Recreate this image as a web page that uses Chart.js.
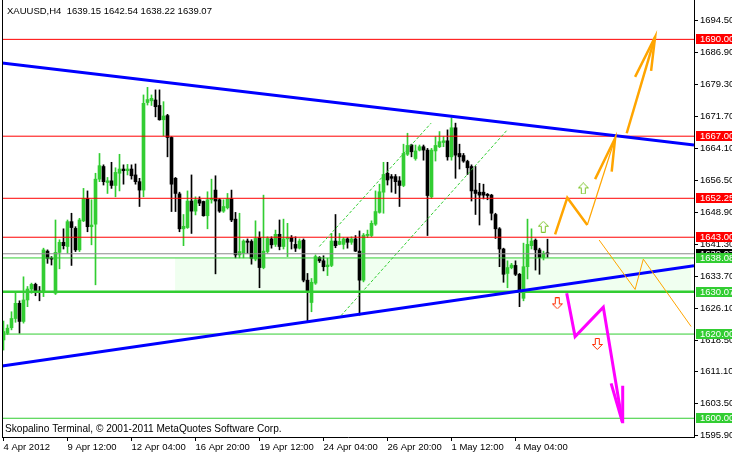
<!DOCTYPE html>
<html><head><meta charset="utf-8">
<script src="https://cdn.jsdelivr.net/npm/chart.js@4.4.1/dist/chart.umd.min.js"></script>
<style>html,body{margin:0;padding:0;background:#fff;overflow:hidden}#wrap{width:732px;height:455px}</style>
</head><body><div id="wrap"><canvas id="c" width="732" height="455"></canvas></div>
<script>
// ---- data (XAUUSD H4) ----
const candleOpen = [1618.6,1620.2,1621.5,1623.7,1627.3,1623.0,1628.1,1630.7,1631.8,1630.2,1629.9,1639.7,1638.0,1629.7,1639.4,1641.8,1640.8,1646.7,1645.1,1640.0,
1646.9,1652.2,1645.5,1646.1,1656.8,1659.8,1656.0,1656.4,1655.3,1658.2,1659.2,1658.8,1659.2,1657.8,1656.2,1654.2,1675.0,1675.4,1675.6,1674.3,
1670.9,1671.9,1666.7,1657.0,1653.3,1645.0,1645.3,1651.6,1649.2,1651.9,1651.5,1648.1,1651.9,1654.2,1651.9,1649.2,1650.0,1652.1,1647.3,1638.8,
1639.2,1642.1,1642.0,1637.8,1642.9,1635.8,1639.6,1642.6,1641.3,1643.7,1640.8,1642.6,1642.9,1641.3,1640.4,1642.3,1632.8,1627.5,1632.1,1638.2,
1637.4,1636.0,1636.3,1642.1,1641.3,1641.3,1642.6,1641.8,1642.6,1639.7,1632.8,1643.4,1643.4,1646.1,1648.9,1653.7,1658.2,1657.4,1657.4,1656.4,
1655.3,1662.7,1664.9,1661.7,1663.7,1664.5,1663.7,1652.6,1663.5,1664.5,1665.5,1665.9,1662.1,1669.0,1662.9,1662.4,1661.0,1659.8,1654.2,1653.7,
1653.7,1653.2,1653.0,1648.4,1645.0,1640.2,1634.4,1635.8,1636.3,1634.2,1628.5,1636.0,1641.0,1642.3,1640.0,1638.2,1639.15];
const candleHigh = [1623.1,1622.2,1625.3,1629.7,1627.9,1633.6,1631.3,1632.1,1632.1,1631.3,1640.4,1640.0,1638.4,1647.1,1642.4,1645.0,1647.1,1648.7,1645.5,1647.5,
1654.6,1654.0,1651.9,1658.2,1662.9,1660.2,1657.2,1660.8,1659.5,1662.7,1660.2,1660.3,1660.2,1660.4,1657.0,1676.8,1678.6,1676.8,1678.0,1678.0,
1675.2,1672.2,1666.9,1657.2,1653.7,1648.4,1654.0,1657.8,1652.6,1652.6,1651.6,1653.8,1656.8,1657.6,1652.2,1651.9,1653.4,1654.2,1648.9,1648.7,
1642.4,1642.6,1642.4,1646.9,1644.3,1653.0,1643.1,1643.1,1644.7,1647.1,1647.3,1646.3,1643.4,1643.1,1642.6,1642.6,1634.4,1633.2,1638.8,1638.4,
1638.6,1638.0,1643.9,1648.4,1643.9,1642.9,1642.9,1643.1,1643.4,1644.5,1643.9,1644.7,1646.9,1654.0,1655.6,1660.8,1660.8,1657.9,1657.9,1657.4,
1665.1,1667.7,1665.1,1664.9,1664.9,1664.9,1664.1,1664.1,1666.9,1668.1,1666.9,1668.5,1671.4,1670.1,1665.1,1662.9,1661.3,1660.2,1659.8,1655.8,
1655.6,1653.4,1653.2,1648.7,1645.3,1640.4,1637.4,1636.8,1637.4,1634.4,1641.6,1647.3,1645.0,1642.6,1640.4,1639.7,1642.54];
const candleLow = [1616.2,1619.9,1621.0,1622.8,1620.2,1622.6,1626.5,1629.7,1629.1,1627.9,1628.9,1636.8,1636.4,1629.4,1635.5,1640.2,1639.2,1636.3,1639.6,1639.6,
1646.7,1644.3,1641.2,1631.7,1656.2,1655.4,1653.4,1654.6,1652.6,1654.0,1655.6,1657.8,1656.8,1655.6,1650.3,1652.6,1674.4,1674.3,1671.6,1670.8,
1667.1,1662.1,1649.1,1649.1,1644.3,1641.0,1645.1,1643.9,1648.3,1650.5,1648.0,1645.0,1651.1,1634.3,1648.9,1648.9,1649.7,1646.7,1638.1,1638.1,
1638.1,1639.2,1636.6,1637.4,1631.0,1635.5,1639.2,1640.4,1640.8,1640.0,1640.2,1638.4,1640.2,1639.6,1640.2,1632.4,1623.0,1625.3,1631.8,1637.0,
1635.0,1633.9,1636.0,1640.5,1641.2,1640.2,1640.4,1641.3,1639.6,1624.5,1632.4,1642.9,1643.1,1645.8,1648.7,1648.7,1655.4,1653.7,1653.4,1650.3,
1655.0,1662.4,1662.1,1661.3,1663.5,1661.3,1643.4,1652.2,1661.1,1664.3,1664.5,1661.3,1661.3,1657.0,1659.2,1660.8,1657.9,1651.6,1648.4,1645.9,
1652.1,1651.9,1647.1,1642.7,1636.0,1632.3,1631.0,1635.5,1633.9,1626.5,1627.9,1633.1,1640.2,1635.2,1634.2,1637.6,1638.22];
const candleClose = [1620.6,1621.4,1623.7,1627.3,1623.0,1628.1,1630.7,1631.8,1630.2,1630.0,1640.0,1638.0,1637.8,1639.4,1641.8,1641.0,1646.7,1645.3,1640.0,1647.1,
1652.2,1645.5,1645.9,1656.8,1660.0,1656.2,1656.4,1655.3,1658.4,1659.2,1658.8,1659.2,1657.6,1656.2,1654.2,1674.8,1675.7,1676.0,1674.0,1670.9,
1671.8,1666.7,1655.6,1653.4,1645.0,1645.6,1651.6,1649.2,1651.9,1651.1,1648.1,1651.9,1652.2,1651.6,1649.2,1650.3,1652.1,1647.1,1638.8,1639.6,
1642.1,1641.8,1638.0,1642.7,1635.8,1639.7,1642.7,1641.2,1643.7,1640.8,1642.6,1642.9,1642.0,1640.4,1642.1,1632.8,1629.9,1632.3,1638.4,1637.4,
1636.0,1636.4,1642.1,1641.0,1642.0,1642.6,1641.8,1642.6,1639.7,1632.8,1643.5,1643.7,1646.3,1649.1,1653.8,1657.9,1656.6,1657.0,1656.2,1655.3,
1662.9,1664.8,1663.3,1663.5,1664.5,1663.7,1652.9,1663.7,1664.8,1665.7,1665.9,1662.1,1669.0,1662.5,1662.1,1661.1,1659.5,1654.0,1653.4,1653.0,
1653.0,1652.9,1648.7,1645.0,1640.2,1634.2,1635.8,1636.4,1634.2,1630.5,1636.0,1641.3,1642.1,1640.0,1638.2,1639.2,1639.07];

const xTickIndex  = [0, 16, 32, 48, 64, 80, 96, 112, 128];
const xTickLabels = ['4 Apr 2012','9 Apr 12:00','12 Apr 04:00','16 Apr 20:00','19 Apr 12:00','24 Apr 04:00','26 Apr 20:00','1 May 12:00','4 May 04:00'];
const yTickValues = [1694.5,1686.9,1679.3,1671.7,1664.1,1656.5,1648.9,1641.3,1633.7,1626.1,1618.5,1611.1,1603.5,1595.9];

const redLevels   = [1690.00, 1667.00, 1652.25, 1643.00];
const greenLevels = [1638.08, 1620.00, 1600.00];
const thickGreenLevel = 1630.07;
const bidLevel = 1639.07;
const headerText = 'XAUUSD,H4  1639.15 1642.54 1638.22 1639.07';
const footerText = 'Skopalino Terminal, \u00A9 2001-2011 MetaQuotes Software Corp.';

const zoneX = [42.9, 171.9];
const zoneTop = 1638.08, zoneBottom = 1630.07;

const upperTrendX = [-0.375, 172.625], upperTrendY = [1684.4, 1664.9];
const lowerTrendX = [-0.375, 172.625], lowerTrendY = [1612.4, 1636.25];
const channel1X = [84.4, 125.95], channel1Y = [1624.4, 1668.5];
const channel2X = [78.95, 106.9], channel2Y = [1640.8, 1670.1];

const orangeZigX = [137.9, 140.95, 145.95], orangeZigY = [1643.7, 1652.4, 1645.9];
const orangeLegX = [145.95, 152.9], orangeLegY = [1645.9, 1666.5];
const orangeHead1X = [147.9, 152.9, 152.05], orangeHead1Y = [1656.8, 1666.5, 1658.6];
const orangeUpX = [155.8, 162.9], orangeUpY = [1667.7, 1690.6];
const orangeHead2X = [157.9, 162.9, 161.9], orangeHead2Y = [1681.1, 1690.6, 1682.5];
const orangeAltX = [148.9, 157.9, 159.95, 171.9], orangeAltY = [1642.35, 1630.6, 1637.8, 1621.8];
const magentaX = [140.8, 142.9, 149.95, 154.7], magentaY = [1629.7, 1619.4, 1626.4, 1599.2];
const magentaHeadX = [151.9, 154.7, 154.8], magentaHeadY = [1608.3, 1599.2, 1607.7];
const upMarkX = [134.95, 144.95], upMarkY = [1645.5, 1654.6];
const downMarkX = [138.45, 148.45], downMarkY = [1627.3, 1617.65];

// ---- styling ----
const FONT = "'Liberation Sans', Arial, sans-serif";
const GREEN = '#32CD32', RED = '#FF0000', BLUE = '#0000FF', ORANGE = '#FFA500', MAGENTA = '#FF00FF';
const X_MIN = -0.375, X_MAX = 172.625, Y_MIN = 1595.55, Y_MAX = 1699.35;

const pts = (xs, ys) => xs.map((x, i) => ({x, y: ys[i]}));
const hline = v => [{x: X_MIN, y: v}, {x: X_MAX, y: v}];
const candleIdx = candleOpen.map((_, i) => i);
const colorOf = i => candleClose[i] >= candleOpen[i] ? GREEN : '#000000';

function arrowIcon(up, stroke, fill) {
  const c = document.createElement('canvas'); c.width = 11; c.height = 12;
  const g = c.getContext('2d');
  const p = [[5.5,0.5],[10.5,5.5],[7.5,5.5],[7.5,11.5],[3.5,11.5],[3.5,5.5],[0.5,5.5]];
  g.beginPath();
  p.forEach(([x, y], i) => { const yy = up ? y : 12 - y; if (i) g.lineTo(x, yy); else g.moveTo(x, yy); });
  g.closePath(); g.fillStyle = fill; g.fill(); g.strokeStyle = stroke; g.lineWidth = 1; g.stroke();
  return c;
}
const upIcon = arrowIcon(true, '#7CC42A', '#ffffff');
const downIcon = arrowIcon(false, '#FF2A00', '#ffffff');

const lineDs = (data, color, width, order, extra) => Object.assign({
  type: 'line', data, borderColor: color, borderWidth: width, pointRadius: 0, pointHoverRadius: 0,
  tension: 0, fill: false, order, borderJoinStyle: 'miter', borderCapStyle: 'butt'
}, extra || {});

const datasets = [
  lineDs([{x: zoneX[0], y: zoneTop}, {x: zoneX[1], y: zoneTop}], 'rgba(0,0,0,0)', 0, 20,
    {fill: {value: zoneBottom}, backgroundColor: '#F0FFF0'}),
  { type: 'bar', data: candleIdx.map(i => ({x: i, y: [candleLow[i], candleHigh[i]]})),
    backgroundColor: c => colorOf(c.dataIndex), barThickness: 1, grouped: false, borderWidth: 0, order: 11 },
  { type: 'bar', data: candleIdx.map(i => ({x: i, y: [Math.min(candleOpen[i], candleClose[i]), Math.max(candleOpen[i], candleClose[i])]})),
    backgroundColor: c => colorOf(c.dataIndex), barThickness: 3, grouped: false, borderWidth: 0, minBarLength: 1, order: 10 },
  ...redLevels.map(v => lineDs(hline(v), RED, 1, 6)),
  ...greenLevels.map(v => lineDs(hline(v), GREEN, 1, 6)),
  lineDs(hline(thickGreenLevel), GREEN, 2.5, 6),
  lineDs(hline(bidLevel), '#8C8C8C', 1, 6),
  lineDs(pts(upperTrendX, upperTrendY), BLUE, 3, 5),
  lineDs(pts(lowerTrendX, lowerTrendY), BLUE, 3, 5),
  lineDs(pts(channel1X, channel1Y), GREEN, 1, 5, {borderDash: [3, 2]}),
  lineDs(pts(channel2X, channel2Y), GREEN, 1, 5, {borderDash: [3, 2]}),
  lineDs(pts(orangeZigX, orangeZigY), ORANGE, 2.5, 3),
  lineDs(pts(orangeLegX, orangeLegY), ORANGE, 1.2, 3),
  lineDs(pts(orangeHead1X, orangeHead1Y), ORANGE, 2.5, 3),
  lineDs(pts(orangeUpX, orangeUpY), ORANGE, 2.5, 3),
  lineDs(pts(orangeHead2X, orangeHead2Y), ORANGE, 2.5, 3),
  lineDs(pts(orangeAltX, orangeAltY), ORANGE, 1, 3),
  lineDs(pts(magentaX, magentaY), MAGENTA, 3, 3),
  lineDs(pts(magentaHeadX, magentaHeadY), MAGENTA, 3, 3),
  { type: 'line', data: pts(upMarkX, upMarkY), showLine: false, pointStyle: upIcon, pointRadius: 6, pointHoverRadius: 6, order: 1 },
  { type: 'line', data: pts(downMarkX, downMarkY), showLine: false, pointStyle: downIcon, pointRadius: 6, pointHoverRadius: 6, order: 1 }
];

const decor = {
  id: 'decor',
  afterDraw(chart) {
    const ctx = chart.ctx, a = chart.chartArea, ys = chart.scales.y;
    ctx.save();
    ctx.fillStyle = '#000';
    ctx.fillRect(Math.round(a.left), 0, 1, Math.round(a.bottom));
    ctx.font = '9.5px ' + FONT;
    ctx.textBaseline = 'middle';
    ctx.textAlign = 'left';
    const box = (v, bg) => {
      const y = Math.round(ys.getPixelForValue(v));
      ctx.fillStyle = bg; ctx.fillRect(696, y - 5, 36, 10);
      ctx.fillStyle = '#fff'; ctx.fillText(v.toFixed(2), 700, y);
    };
    box(bidLevel, '#000');
    redLevels.forEach(v => box(v, RED));
    [...greenLevels, thickGreenLevel].forEach(v => box(v, GREEN));
    ctx.fillStyle = '#000';
    ctx.fillText(headerText, 7, 11);
    ctx.font = '10.1px ' + FONT;
    ctx.fillText(footerText, 5, 429.5);
    ctx.restore();
  }
};

new Chart(document.getElementById('c'), {
  type: 'bar',
  data: { datasets },
  options: {
    responsive: false, animation: false, devicePixelRatio: 1,
    layout: { autoPadding: false, padding: {left: 2, top: 0, right: 0, bottom: 0} },
    plugins: { legend: {display: false}, tooltip: {enabled: false}, title: {display: false} },
    events: [],
    scales: {
      x: {
        type: 'linear', min: X_MIN, max: X_MAX, offset: false,
        afterBuildTicks: s => { s.ticks = xTickIndex.map(v => ({value: v})); },
        afterFit: s => { s.height = 18; s.paddingLeft = 0; s.paddingRight = 0; },
        ticks: { autoSkip: false, maxRotation: 0, minRotation: 0, align: 'start', padding: 1, color: '#000',
                 font: {family: FONT, size: 9.5}, callback: v => xTickLabels[xTickIndex.indexOf(v)] },
        grid: { drawOnChartArea: false, drawTicks: true, tickLength: 4, tickColor: '#000', offset: false },
        border: { display: true, color: '#000', width: 1 }
      },
      y: {
        type: 'linear', position: 'right', min: Y_MIN, max: Y_MAX,
        afterBuildTicks: s => { s.ticks = yTickValues.map(v => ({value: v})); },
        afterFit: s => { s.width = 38; s.paddingTop = 0; s.paddingBottom = 0; },
        ticks: { autoSkip: false, padding: 2, color: '#000', font: {family: FONT, size: 9.5},
                 callback: v => Number(v).toFixed(2) },
        grid: { drawOnChartArea: false, drawTicks: true, tickLength: 4, tickColor: '#000' },
        border: { display: true, color: '#000', width: 1 }
      }
    }
  },
  plugins: [decor]
});
</script>
</body></html>
